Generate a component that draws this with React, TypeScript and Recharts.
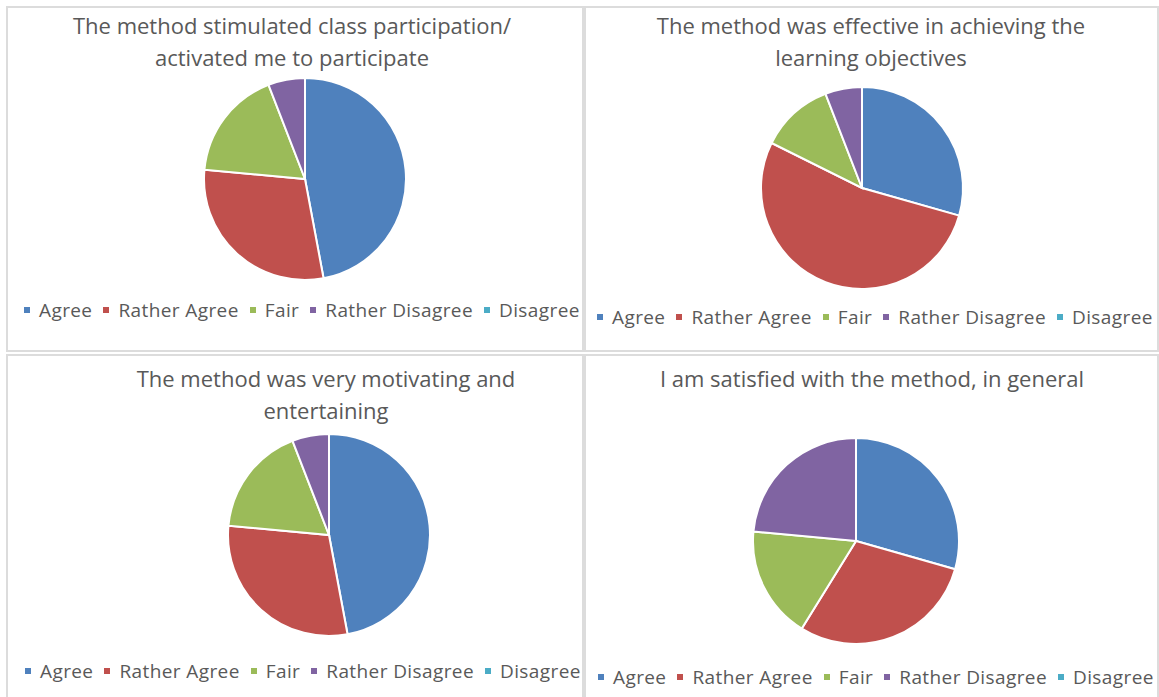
import { PieChart, Pie, Cell, Legend } from "recharts";

const CATEGORIES = ["Agree", "Rather Agree", "Fair", "Rather Disagree", "Disagree"];
const COLORS = ["#4F81BD", "#C0504D", "#9BBB59", "#8064A2", "#4BACC6"];

// responses per answer, same order as CATEGORIES
const participationCounts = [8, 5, 3, 1, 0];
const objectivesCounts = [5, 9, 2, 1, 0];
const motivatingCounts = [8, 5, 3, 1, 0];
const satisfiedCounts = [5, 5, 3, 4, 0];

const participationTitle = ["The method stimulated class participation/", "activated me to participate"];
const objectivesTitle = ["The method was effective in achieving the", "learning objectives"];
const motivatingTitle = ["The method was very motivating and", "entertaining"];
const satisfiedTitle = ["I am satisfied with the method, in general"];

const FONT = "'Open Sans', Lato, sans-serif";
const TEXT = "#595959";

function toRows(counts: number[]) {
  return CATEGORIES.map((name, i) => ({ name, value: counts[i] }));
}

function LegendRow() {
  return (
    <div
      style={{
        display: "flex",
        alignItems: "center",
        whiteSpace: "nowrap",
        fontSize: 19,
        letterSpacing: 0.4,
        lineHeight: "24px",
        color: TEXT,
        fontFamily: FONT,
      }}
    >
      {CATEGORIES.map((c, i) => (
        <span key={c} style={{ display: "inline-flex", alignItems: "center", marginRight: 11 }}>
          <span style={{ width: 6, height: 6, background: COLORS[i], marginRight: 9 }} />
          {c}
        </span>
      ))}
    </div>
  );
}

interface PanelProps {
  left: number;
  top: number;
  width: number;
  height: number;
  title: string[];
  titleX: number;
  titleTop: number;
  counts: number[];
  cx: number;
  cy: number;
  r: number;
  legendX: number;
  legendY: number;
}

function Panel(p: PanelProps) {
  return (
    <div style={{ position: "absolute", left: p.left, top: p.top, width: p.width, height: p.height }}>
      <div
        style={{
          position: "absolute",
          left: 0,
          top: 0,
          width: p.width,
          height: p.height,
          boxSizing: "border-box",
          border: "2px solid #dcdcdc",
        }}
      />
      <div
        style={{
          position: "absolute",
          left: p.titleX - 300,
          width: 600,
          top: p.titleTop,
          textAlign: "center",
          fontFamily: FONT,
          fontSize: 22,
          lineHeight: "32px",
          color: TEXT,
        }}
      >
        {p.title.map((t) => (
          <div key={t}>{t}</div>
        ))}
      </div>
      <div style={{ position: "absolute", left: 0, top: 0 }}>
        <PieChart width={p.width} height={p.height} margin={{ top: 0, right: 0, bottom: 0, left: 0 }}>
          <Pie
            data={toRows(p.counts)}
            dataKey="value"
            nameKey="name"
            cx={p.cx}
            cy={p.cy}
            outerRadius={p.r}
            startAngle={90}
            endAngle={-270}
            stroke="#ffffff"
            strokeWidth={2}
            isAnimationActive={false}
          >
            {CATEGORIES.map((c, i) => (
              <Cell key={c} fill={COLORS[i]} />
            ))}
          </Pie>
          <Legend
            content={() => <LegendRow />}
            wrapperStyle={{ position: "absolute", left: p.legendX, top: p.legendY - 12, width: "auto" }}
          />
        </PieChart>
      </div>
    </div>
  );
}

export default function App() {
  return (
    <div style={{ position: "absolute", left: 0, top: 0, width: 1159, height: 697, overflow: "hidden", background: "#fff" }}>
      <Panel left={6} top={6} width={578} height={346} title={participationTitle} titleX={286} titleTop={3}
        counts={participationCounts} cx={299} cy={173} r={101} legendX={18} legendY={304} />
      <Panel left={584} top={6} width={575} height={346} title={objectivesTitle} titleX={287} titleTop={3}
        counts={objectivesCounts} cx={278} cy={182} r={101} legendX={13} legendY={311} />
      <Panel left={6} top={354} width={578} height={350} title={motivatingTitle} titleX={320} titleTop={8}
        counts={motivatingCounts} cx={323} cy={181} r={101} legendX={19} legendY={317} />
      <Panel left={584} top={354} width={575} height={350} title={satisfiedTitle} titleX={288} titleTop={8}
        counts={satisfiedCounts} cx={272} cy={187} r={103} legendX={14} legendY={323} />
    </div>
  );
}
